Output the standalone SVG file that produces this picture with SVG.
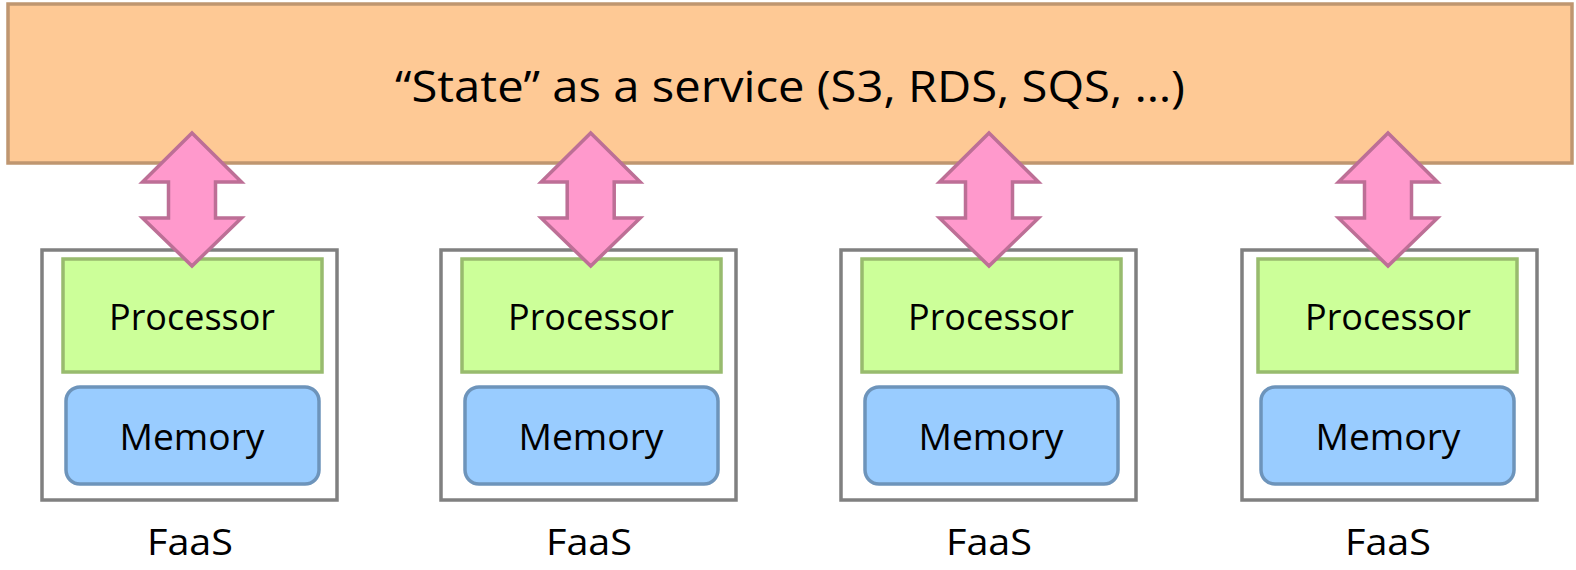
<svg xmlns="http://www.w3.org/2000/svg" width="1576" height="570" viewBox="0 0 1576 570">
  <defs>
    <style>
      .state { fill: #fec995; stroke: #bf9670; stroke-width: 3.5; }
      .faas { fill: #ffffff; stroke: #808080; stroke-width: 3.5; }
      .cpu { fill: #ccff99; stroke: #98bb6e; stroke-width: 3.5; }
      .mem { fill: #99ccff; stroke: #6d94bb; stroke-width: 3.5; }
      .link { fill: #ff99cc; stroke: #bd6f96; stroke-width: 3.5; stroke-linejoin: miter; }
      text { font-family: "Open Sans", "Liberation Sans", sans-serif; fill: #000000; text-anchor: middle; }
      .title { font-size: 43px; }
      .lbl { font-size: 37px; }
    </style>
    <!-- double-headed block arrow, centred on x = 0 -->
    <polygon id="dbl" class="link" points="0,133 49.5,182 23.5,182 23.5,218 49.5,218 0,266 -49.5,218 -23.5,218 -23.5,182 -49.5,182"/>
  </defs>

  <g id="state-service">
    <rect class="state" x="8" y="4" width="1564" height="159"/>
    <text class="title" x="790" y="102" textLength="790" lengthAdjust="spacingAndGlyphs">“State” as a service (S3, RDS, SQS, …)</text>
  </g>

  <g id="faas-1" transform="translate(0,0)">
    <rect class="faas" x="42" y="250" width="295" height="250"/>
    <rect class="cpu" x="63" y="259" width="259" height="113"/>
    <text class="lbl" x="192" y="330" textLength="166" lengthAdjust="spacingAndGlyphs">Processor</text>
    <rect class="mem" x="66" y="387" width="253" height="97" rx="14"/>
    <text class="lbl" x="192" y="450" textLength="145" lengthAdjust="spacingAndGlyphs">Memory</text>
    <text class="lbl" x="190" y="555" textLength="86" lengthAdjust="spacingAndGlyphs">FaaS</text>
  </g>

  <g id="faas-2" transform="translate(399,0)">
    <rect class="faas" x="42" y="250" width="295" height="250"/>
    <rect class="cpu" x="63" y="259" width="259" height="113"/>
    <text class="lbl" x="192" y="330" textLength="166" lengthAdjust="spacingAndGlyphs">Processor</text>
    <rect class="mem" x="66" y="387" width="253" height="97" rx="14"/>
    <text class="lbl" x="192" y="450" textLength="145" lengthAdjust="spacingAndGlyphs">Memory</text>
    <text class="lbl" x="190" y="555" textLength="86" lengthAdjust="spacingAndGlyphs">FaaS</text>
  </g>

  <g id="faas-3" transform="translate(799,0)">
    <rect class="faas" x="42" y="250" width="295" height="250"/>
    <rect class="cpu" x="63" y="259" width="259" height="113"/>
    <text class="lbl" x="192" y="330" textLength="166" lengthAdjust="spacingAndGlyphs">Processor</text>
    <rect class="mem" x="66" y="387" width="253" height="97" rx="14"/>
    <text class="lbl" x="192" y="450" textLength="145" lengthAdjust="spacingAndGlyphs">Memory</text>
    <text class="lbl" x="190" y="555" textLength="86" lengthAdjust="spacingAndGlyphs">FaaS</text>
  </g>

  <g id="faas-4" transform="translate(1200,0)">
    <rect class="faas" x="42" y="250" width="295" height="250"/>
    <rect class="cpu" x="58" y="259" width="259" height="113"/>
    <text class="lbl" x="188" y="330" textLength="166" lengthAdjust="spacingAndGlyphs">Processor</text>
    <rect class="mem" x="61" y="387" width="253" height="97" rx="14"/>
    <text class="lbl" x="188" y="450" textLength="145" lengthAdjust="spacingAndGlyphs">Memory</text>
    <text class="lbl" x="188" y="555" textLength="86" lengthAdjust="spacingAndGlyphs">FaaS</text>
  </g>

  <g id="connectors">
    <use href="#dbl" x="192"/>
    <use href="#dbl" x="590.7"/>
    <use href="#dbl" x="989"/>
    <use href="#dbl" x="1388"/>
  </g>
</svg>
